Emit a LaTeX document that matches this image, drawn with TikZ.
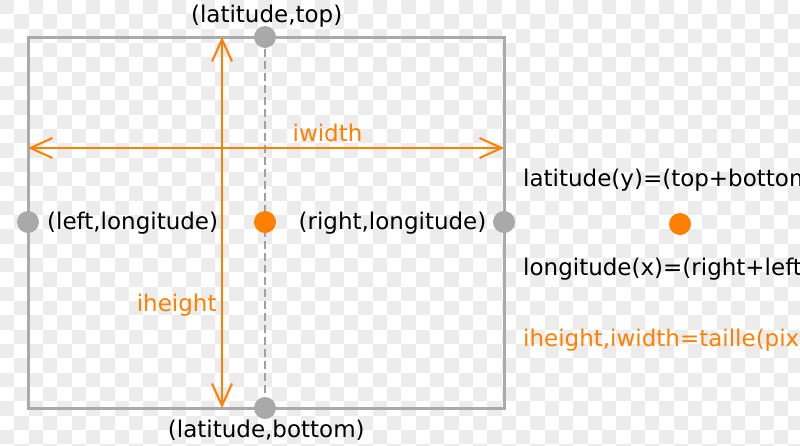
\documentclass[tikz,border=0pt]{standalone}
\usepackage{fontspec}
\setmainfont{DejaVu Sans}
\usetikzlibrary{arrows.meta}
\definecolor{framegray}{HTML}{AAAAAA}
\definecolor{dotgray}{HTML}{A9A9A9}
\definecolor{dashgray}{HTML}{A0A0A0}
\definecolor{orng}{HTML}{FF8000}
\definecolor{chk}{HTML}{ECECEC}
\begin{document}
\begin{tikzpicture}[x=1pt,y=-1pt,
  lbl/.style={inner sep=0pt, font=\fontsize{23}{27}\selectfont},
  gdot/.style={circle, fill=dotgray, minimum size=22pt, inner sep=0pt},
  odot/.style={circle, fill=orng, minimum size=22pt, inner sep=0pt},
  dimline/.style={draw=orng, line width=2pt,
    {Straight Barb[length=22pt,width=20pt]}-{Straight Barb[length=22pt,width=20pt]}},
  framebox/.style={draw=framegray, line width=3pt},
  dashline/.style={draw=dashgray, line width=2pt, dash pattern=on 8pt off 4pt}
]
\useasboundingbox (0,0) rectangle (800,445);
\clip (0,0) rectangle (800,445);
\fill[white] (0,0) rectangle (800,445);
\foreach \i in {0,...,55}{
  \foreach \j in {0,...,31}{
    \pgfmathtruncatemacro\chkpar{mod(\i+\j,2)}
    \ifnum\chkpar=0 \fill[chk] (\i*14.33,\j*14.33) rectangle ++(14.33,14.33);\fi
  }
}
% coordinates
\coordinate (TL) at (28,37);
\coordinate (BR) at (504,408);
\coordinate (ptop) at (265,37);
\coordinate (pbot) at (265,408);
\coordinate (pleft) at (28,222);
\coordinate (pright) at (504,222);
\coordinate (vt) at (222,37);
\coordinate (vb) at (222,408);
\coordinate (hl) at (28,148);
\coordinate (hr) at (504,148);
% frame
\draw[framebox] (TL) rectangle (BR);
\draw[dashline] (ptop) -- (pbot);
\draw[dimline] (vb) -- (vt);
\draw[dimline] (hr) -- (hl);
% dots
\node[gdot] (top) at (ptop) {};
\node[gdot] (bottom) at (pbot) {};
\node[gdot] (left) at (pleft) {};
\node[gdot] (right) at (pright) {};
\node[odot] (center) at (265,222) {};
\node[odot] (legdot) at (680,224) {};
% labels
\node[lbl, anchor=base] (ltop) at (266.7,22.7) {(latitude,top)};
\node[lbl, anchor=base] (lbot) at (266.3,437.3) {(latitude,bottom)};
\node[lbl, anchor=base west] (lleft) at (47,229) {(left,longitude)};
\node[lbl, anchor=base east] (lright) at (486.5,229) {(right,longitude)};
\node[lbl, anchor=base, text=orng] (lw) at (327.5,141.7) {iwidth};
\node[lbl, anchor=base east, text=orng] (lh) at (216.7,311.7) {iheight};
\node[lbl, anchor=base west] (f1) at (523,186) {latitude(y)=(top+bottom};
\node[lbl, anchor=base west] (f2) at (523,275) {longitude(x)=(right+left};
\node[lbl, anchor=base west, text=orng] (f3) at (523,346.7) {iheight,iwidth=taille(pix};
\end{tikzpicture}
\end{document}
